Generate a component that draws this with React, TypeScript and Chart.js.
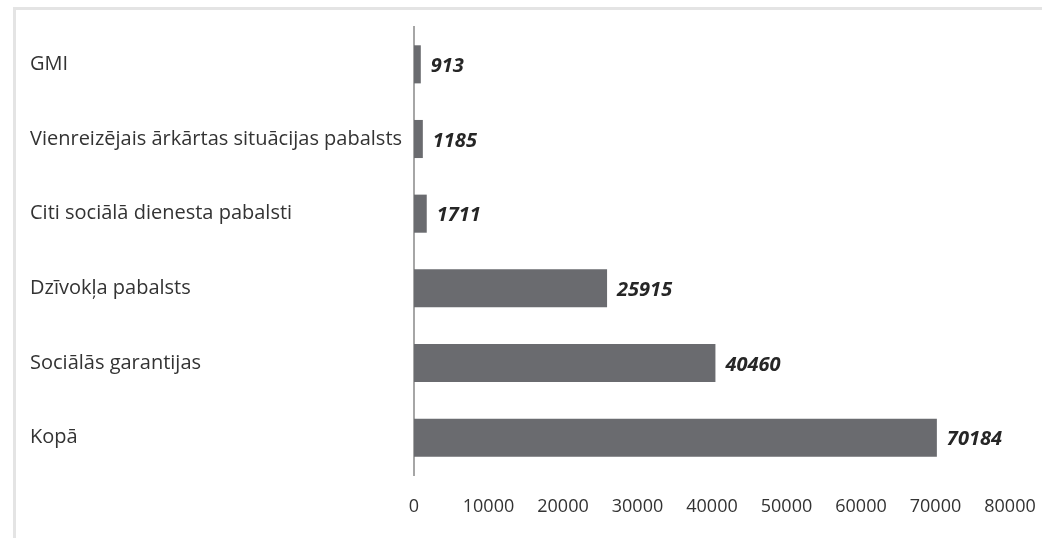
import React, { useEffect, useRef } from "react";
import { Chart, registerables } from "chart.js";

Chart.register(...registerables);

const categories = [
  "GMI",
  "Vienreizējais ārkārtas situācijas pabalsts",
  "Citi sociālā dienesta pabalsti",
  "Dzīvokļa pabalsts",
  "Sociālās garantijas",
  "Kopā",
];
const values = [913, 1185, 1711, 25915, 40460, 70184];
const xMin = 0;
const xMax = 80000;
const xStep = 10000;

const FONT = "'Open Sans', 'DejaVu Sans', sans-serif";

const valueLabels = {
  id: "valueLabels",
  afterDatasetsDraw(chart: any) {
    const ctx = chart.ctx;
    const meta = chart.getDatasetMeta(0);
    ctx.save();
    ctx.font = `italic bold 20px ${FONT}`;
    ctx.fillStyle = "#262626";
    ctx.textAlign = "left";
    ctx.textBaseline = "middle";
    meta.data.forEach((bar: any, i: number) => {
      ctx.fillText(String(values[i]), bar.x + 10, bar.y + 2);
    });
    ctx.restore();
  },
};

export default function App() {
  const ref = useRef<HTMLCanvasElement | null>(null);
  useEffect(() => {
    document.body.style.margin = "0";
    const chart = new Chart(ref.current as HTMLCanvasElement, {
      type: "bar",
      data: {
        labels: categories,
        datasets: [
          {
            data: values,
            backgroundColor: "#6a6b6f",
            barPercentage: 0.51,
            categoryPercentage: 1,
          },
        ],
      },
      options: {
        indexAxis: "y",
        animation: false,
        responsive: false,
        maintainAspectRatio: false,
        layout: { padding: { top: 27, right: 32, left: 30, bottom: 0 } },
        plugins: {
          legend: { display: false },
          tooltip: { enabled: false },
        },
        scales: {
          x: {
            min: xMin,
            max: xMax,
            grid: { display: false, drawTicks: false },
            border: { display: false },
            ticks: {
              stepSize: xStep,
              padding: 21,
              color: "#333333",
              font: { family: FONT, size: 18 },
              maxRotation: 0,
              callback: (v: any) => String(v),
            },
            afterFit(scale: any) {
              scale.height = 63;
              scale.paddingRight = 0;
              scale.paddingLeft = 0;
            },
          },
          y: {
            grid: { display: false, drawTicks: false },
            border: { display: true, color: "#a6a6a6", width: 2 },
            ticks: {
              crossAlign: "far",
              padding: 8,
              color: "#333333",
              font: { family: FONT, size: 20 },
            },
            afterFit(scale: any) {
              scale.width = 384;
              scale.paddingTop = 0;
              scale.paddingBottom = 0;
            },
          },
        },
      },
      plugins: [valueLabels],
    });
    return () => chart.destroy();
  }, []);
  return (
    <div style={{ position: "relative", width: 1042, height: 538, background: "#fff" }}>
      <div
        style={{
          position: "absolute",
          left: 13,
          top: 7,
          width: 1030,
          height: 540,
          borderTop: "3px solid #e4e4e4",
          borderLeft: "3px solid #e4e4e4",
          boxSizing: "border-box",
        }}
      />
      <canvas ref={ref} width={1042} height={538} style={{ position: "absolute", left: 0, top: 0 }} />
    </div>
  );
}
